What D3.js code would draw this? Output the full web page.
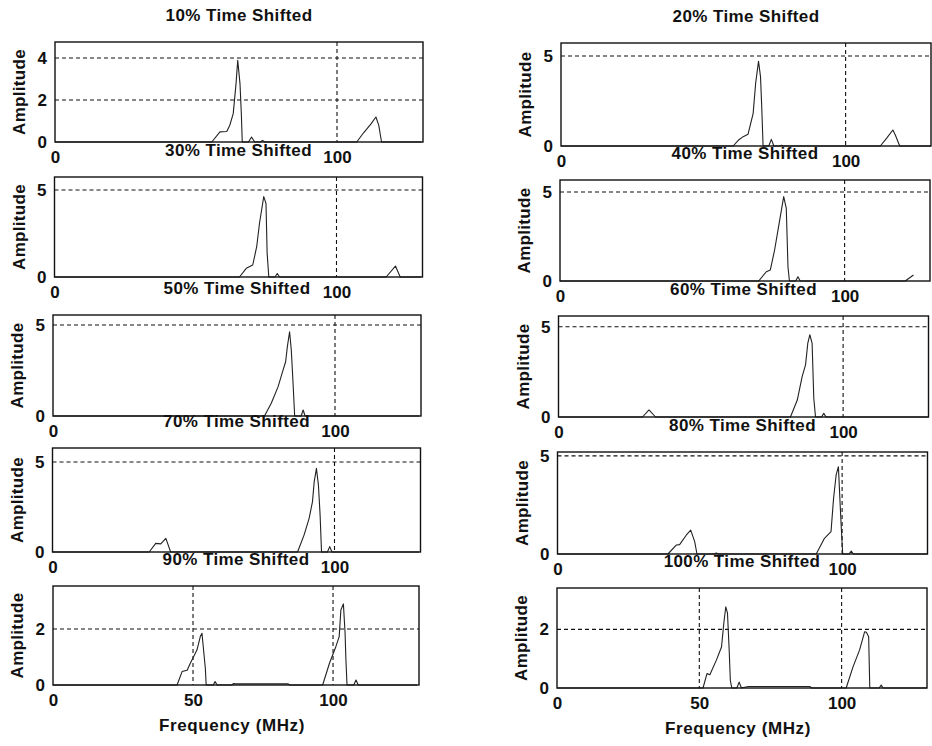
<!DOCTYPE html>
<html>
<head>
<meta charset="utf-8">
<script src="https://cdn.jsdelivr.net/npm/d3@7"></script>
<style>
  html, body { margin: 0; padding: 0; background: #fff; }
  svg { display: block; }
  text { font-family: "Liberation Sans", Arial, Helvetica, sans-serif; font-weight: bold; fill: #111; }
</style>
</head>
<body>
<svg id="chart" width="932" height="746"></svg>
<script>
// ---------------- DATA ----------------
const titles = ["10% Time Shifted", "20% Time Shifted", "30% Time Shifted", "40% Time Shifted",
                "50% Time Shifted", "60% Time Shifted", "70% Time Shifted", "80% Time Shifted",
                "90% Time Shifted", "100% Time Shifted"];

const f10 = [0, 55.6, 58.5, 60.9, 62.0, 63.2, 64.2, 64.8, 65.6, 66.1, 66.4, 68.6, 69.7, 70.8, 72.8, 73.6, 74.4, 107.0, 109.5, 112.0, 113.8, 114.8, 115.8, 130];
const a10 = [0, 0, 0.48, 0.5, 0.8, 1.35, 2.78, 3.89, 2.78, 1.27, 0, 0, 0.24, 0, 0, 0.08, 0, 0, 0.45, 0.85, 1.19, 0.8, 0, 0];

const f20 = [0, 60.5, 62.5, 64, 65.7, 67.5, 68.4, 69.4, 70.1, 70.5, 71.0, 73.0, 73.9, 74.8, 77.0, 77.5, 78.0, 112.2, 114.5, 116.6, 117.5, 119, 130];
const a20 = [0, 0, 0.35, 0.52, 0.65, 1.8, 3.5, 4.7, 3.85, 2.28, 0, 0, 0.37, 0, 0, 0.05, 0, 0, 0.45, 0.89, 0.6, 0, 0];

const f30 = [0, 65.6, 68, 70.3, 71.7, 72.7, 74.2, 75, 75.4, 76, 78.2, 79, 79.8, 117.6, 120.9, 122.6, 130];
const a30 = [0, 0, 0.5, 0.69, 1.74, 3.09, 4.62, 4.23, 1.38, 0, 0, 0.2, 0, 0, 0.63, 0, 0];

const f40 = [0, 69.8, 72.5, 73.9, 75.4, 76.8, 78.6, 79.5, 80.1, 80.6, 82.8, 83.6, 84.4, 121.3, 124.2];
const a40 = [0, 0, 0.52, 0.62, 1.74, 3.05, 4.74, 4.08, 0.8, 0, 0, 0.24, 0, 0, 0.34];

const f50 = [0, 75, 77.4, 79.8, 81.6, 82.5, 83.1, 83.9, 84.5, 85.1, 85.7, 88.0, 88.7, 89.4, 130];
const a50 = [0, 0, 0.7, 1.6, 2.53, 2.98, 3.8, 4.63, 3.63, 1.88, 0, 0, 0.33, 0, 0];

const f60 = [0, 29.5, 31.8, 34.1, 81.5, 83.9, 85.6, 86.8, 87.6, 88.3, 89.1, 89.7, 90.3, 92.4, 93.2, 94.0, 130];
const a60 = [0, 0, 0.39, 0, 0, 0.94, 2.24, 2.89, 4.1, 4.56, 4.1, 1.04, 0, 0, 0.2, 0, 0];

const f70 = [0, 34.3, 36.6, 38.4, 40.2, 41.9, 86.9, 89.2, 91, 92.2, 92.8, 93.6, 94.3, 94.9, 95.4, 97.5, 98.3, 99.1, 130];
const a70 = [0, 0, 0.48, 0.45, 0.76, 0, 0, 0.94, 1.87, 2.8, 3.9, 4.65, 3.72, 2.05, 0, 0, 0.3, 0, 0];

const f80 = [0, 38.8, 41.8, 42.9, 45.3, 46.8, 48.2, 49, 55, 55.8, 56.6, 90.9, 93.8, 96.1, 97, 97.9, 98.7, 99.1, 99.6, 100.2, 102.4, 103.2, 104, 130];
const a80 = [0, 0, 0.46, 0.48, 0.97, 1.22, 0.63, 0, 0, 0.05, 0, 0, 0.8, 1.14, 2.84, 4.03, 4.45, 3.18, 1.65, 0, 0, 0.15, 0, 0];

const f90 = [0, 44.3, 46.1, 47.9, 49, 51.4, 52.6, 53.2, 54, 54.4, 54.7, 57.2, 57.9, 58.6, 63.8, 64.4, 65, 84, 84.5, 96.3, 98.7, 101, 102.2, 102.8, 103.7, 104.3, 104.6, 105, 107.4, 108.2, 109, 130];
const a90 = [0, 0, 0.48, 0.53, 0.77, 1.25, 1.73, 1.85, 1.01, 0.6, 0, 0, 0.12, 0, 0, 0.05, 0.04, 0.04, 0, 0, 0.77, 1.37, 1.73, 2.68, 2.9, 1.87, 0.9, 0, 0, 0.18, 0, 0];

const f100 = [0, 51.3, 52.7, 53.7, 56, 57.8, 58.6, 59.3, 59.9, 60.5, 60.9, 61.4, 63.2, 64, 64.8, 67.2, 88.8, 89.5, 101.6, 104, 106.3, 108.1, 108.7, 109.5, 109.9, 113.2, 113.9, 114.6, 130];
const a100 = [0, 0, 0.49, 0.45, 0.95, 1.4, 2.2, 2.77, 2.55, 1.29, 0.26, 0, 0, 0.2, 0, 0.05, 0.05, 0, 0, 0.72, 1.29, 1.92, 1.9, 1.75, 0, 0, 0.1, 0, 0];

const yMax = [4.76, 5.72, 5.75, 5.67, 5.55, 5.6, 5.78, 5.2, 3.54, 3.41];
const yTicksA = [0, 2, 4];
const yTicksB = [0, 5];
const yTicksC = [0, 2];
const xTicksTop = [0, 100];
const xTicksBottom = [0, 50, 100];
const xLabel = "Frequency (MHz)";
const yLabel = "Amplitude";

// ---------------- LAYOUT ----------------
const freqs = [f10, f20, f30, f40, f50, f60, f70, f80, f90, f100];
const amps  = [a10, a20, a30, a40, a50, a60, a70, a80, a90, a100];
const yTicks = [yTicksA, yTicksB, yTicksB, yTicksB, yTicksB, yTicksB, yTicksB, yTicksB, yTicksC, yTicksC];

// box placement (slightly skewed like the scanned original)
const boxes = [
  {x: 55,    top: 42,  zero: 142, w: 368, xMax: 130.5},
  {x: 561,   top: 43,  zero: 146, w: 370, xMax: 130},
  {x: 54.5,  top: 177, zero: 277, w: 368, xMax: 130.5},
  {x: 560,   top: 180, zero: 281, w: 370, xMax: 130},
  {x: 53,    top: 315, zero: 416, w: 368, xMax: 130.5},
  {x: 558.5, top: 316, zero: 417, w: 370, xMax: 130},
  {x: 52.5,  top: 448, zero: 552, w: 368, xMax: 130.5},
  {x: 557.5, top: 452, zero: 554, w: 370, xMax: 130},
  {x: 53,    top: 586, zero: 685, w: 366, xMax: 130.7},
  {x: 557,   top: 588, zero: 688, w: 370, xMax: 130}
];

const svg = d3.select("#chart");

boxes.forEach((b, i) => {
  const h = b.zero - b.top;
  const g = svg.append("g").attr("transform", `translate(${b.x},${b.top})`);
  const x = d3.scaleLinear().domain([0, b.xMax]).range([0, b.w]);
  const y = d3.scaleLinear().domain([0, yMax[i]]).range([h, 0]);
  const xt = i >= 8 ? xTicksBottom : xTicksTop;
  const yt = yTicks[i];

  // grid lines
  g.append("g").selectAll("line.hg").data(yt.filter(v => v > 0)).join("line")
    .attr("x1", 0).attr("x2", b.w).attr("y1", d => y(d)).attr("y2", d => y(d))
    .attr("stroke", "#111").attr("stroke-width", 1.1).attr("stroke-dasharray", "4,3");
  g.append("g").selectAll("line.vg").data(xt.filter(v => v > 0)).join("line")
    .attr("x1", d => x(d)).attr("x2", d => x(d)).attr("y1", 0).attr("y2", h)
    .attr("stroke", "#111").attr("stroke-width", 1.1).attr("stroke-dasharray", "4,3");

  // curve
  const pts = freqs[i].map((f, k) => [f, amps[i][k]]);
  g.append("path").datum(pts)
    .attr("d", d3.line().x(d => x(d[0])).y(d => y(d[1])))
    .attr("fill", "none").attr("stroke", "#222").attr("stroke-width", 1.1)
    .attr("stroke-linejoin", "round");

  // box
  g.append("rect").attr("x", 0).attr("y", 0).attr("width", b.w).attr("height", h)
    .attr("fill", "none").attr("stroke", "#111").attr("stroke-width", 1.4);

  // axes (labels only)
  const ax = g.append("g").attr("transform", `translate(0,${h})`)
    .call(d3.axisBottom(x).tickValues(xt).tickSize(0).tickPadding(9).tickFormat(d3.format("d")));
  ax.select(".domain").remove();
  ax.selectAll("text").style("font-size", "17px").attr("fill", "#111");

  const ay = g.append("g")
    .call(d3.axisLeft(y).tickValues(yt).tickSize(0).tickPadding(8).tickFormat(d3.format("d")));
  ay.select(".domain").remove();
  ay.selectAll("text").style("font-size", "17px").attr("fill", "#111");

  // title
  g.append("text").attr("x", b.w / 2).attr("y", -25).attr("text-anchor", "middle")
    .attr("dominant-baseline", "middle").style("font-size", "17px").style("letter-spacing", "0.4px")
    .text(titles[i]);

  // y label
  g.append("text").attr("transform", `translate(-34,${h / 2}) rotate(-90)`)
    .attr("text-anchor", "middle").attr("dominant-baseline", "middle")
    .style("font-size", "17px").style("letter-spacing", "0.3px").text(yLabel);

  // x label on bottom row
  if (i >= 8) {
    g.append("text").attr("x", b.w / 2 - 4).attr("y", h + 42).attr("text-anchor", "middle")
      .attr("dominant-baseline", "middle").style("font-size", "17px").style("letter-spacing", "0.6px")
      .text(xLabel);
  }
});
</script>
</body>
</html>
